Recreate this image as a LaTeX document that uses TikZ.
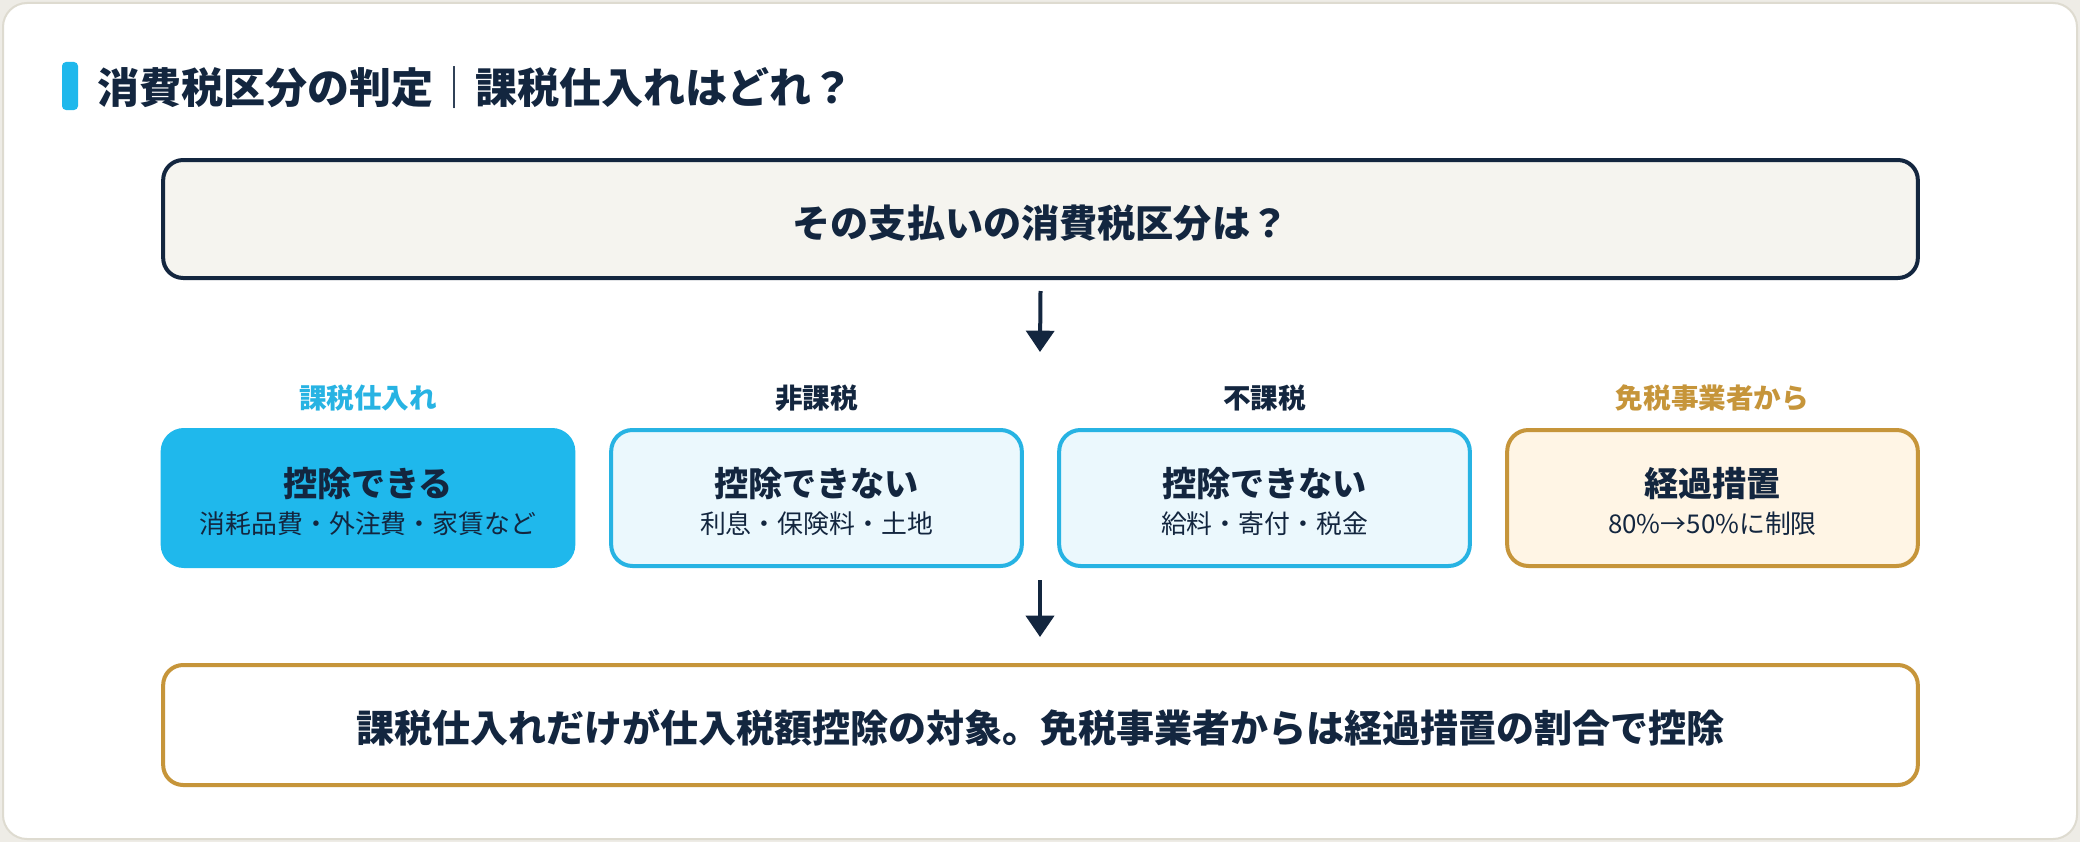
\documentclass[tikz,border=0pt]{standalone}
\usepackage{fontspec}
\setmainfont{Noto Sans CJK JP}
\usetikzlibrary{arrows.meta,calc}
\definecolor{navy}{HTML}{13263F}
\definecolor{cyanA}{HTML}{1FB8EC}
\definecolor{cyanB}{HTML}{27B3E3}
\definecolor{cyanL}{HTML}{EBF8FD}
\definecolor{gold}{HTML}{C6953A}
\definecolor{goldL}{HTML}{FFF5E5}
\definecolor{cream}{HTML}{F5F4EF}
\definecolor{cardline}{HTML}{DEDBD0}
\definecolor{bgout}{HTML}{EEECE6}
\newcommand\fsz[1]{\fontsize{#1}{#1}\selectfont}
\begin{document}
\begin{tikzpicture}[x=0.75pt,y=-0.75pt,
  txt/.style={inner sep=0pt, text=navy},
  mainfont/.style={font=\bfseries\fsz{25.6}},
  subfont/.style={font=\fsz{19.4}},
  labfont/.style={font=\bfseries\fsz{20.7}},
  widebox/.style={minimum width=1316pt, rounded corners=15pt, line width=3pt, inner sep=0pt},
  catbox/.style={minimum width=308pt, minimum height=102pt, rounded corners=16pt, line width=3pt, inner sep=0pt},
  arr/.style={draw=navy, line width=3pt, -{Triangle[width=21pt,length=16pt]}}]
\useasboundingbox (0,0) rectangle (2080,842);
\fill[bgout] (0,0) rectangle (2080,842);
\draw[cardline, line width=1.5pt, fill=white, rounded corners=18pt] (3,3) rectangle (2077,839);
% title
\node[fill=cyanA, rounded corners=3pt, minimum width=12pt, minimum height=36pt, inner sep=0pt] (bar) at (70,86) {};
\node[txt, anchor=west, font=\bfseries\fsz{31.5}] (title) at (97,88) {消費税区分の判定{\mdseries ｜}課税仕入れはどれ？};
% question
\node[widebox, draw=navy, fill=cream, minimum height=88.5pt] (q) at (1040.5,219) {};
\node[txt, font=\bfseries\fsz{28.6}] (qt) at ($(q.center)+(0,4)$) {その支払いの消費税区分は？};
% labels
\node[txt, labfont, text=cyanB] (l1) at (368,398) {課税仕入れ};
\node[txt, labfont] (l2) at (816.5,398) {非課税};
\node[txt, labfont] (l3) at (1264.5,398) {不課税};
\node[txt, labfont, text=gold] (l4) at (1712.5,398) {免税事業者から};
% category boxes
\node[catbox, draw=cyanA, fill=cyanA] (b1) at (368,498) {};
\node[catbox, draw=cyanB, fill=cyanL] (b2) at (816.5,498) {};
\node[catbox, draw=cyanB, fill=cyanL] (b3) at (1264.5,498) {};
\node[catbox, draw=gold, fill=goldL] (b4) at (1712.5,498) {};
\node[txt, mainfont] (m1) at ($(b1.center)+(0,-14)$) {控除できる};
\node[txt, subfont] (s1) at ($(b1.center)+(0,26)$) {消耗品費・外注費・家賃など};
\node[txt, mainfont] (m2) at ($(b2.center)+(0,-14)$) {控除できない};
\node[txt, subfont] (s2) at ($(b2.center)+(0,26)$) {利息・保険料・土地};
\node[txt, mainfont] (m3) at ($(b3.center)+(0,-14)$) {控除できない};
\node[txt, subfont] (s3) at ($(b3.center)+(0,26)$) {給料・寄付・税金};
\node[txt, mainfont] (m4) at ($(b4.center)+(0,-14)$) {経過措置};
\node[txt, subfont] (s4) at ($(b4.center)+(0,26)$) {80\%→50\%に制限};
% result
\node[widebox, draw=gold, fill=white, minimum height=90pt] (res) at (1040.5,725) {};
\node[txt, font=\bfseries\fsz{28.5}] (rt) at ($(res.center)+(0,3)$) {課税仕入れだけが仕入税額控除の対象。免税事業者からは経過措置の割合で控除};
% arrows
\coordinate (a1s) at ($(q.south)+(0,11)$);
\coordinate (a1e) at (1040,352);
\coordinate (a2s) at (1040,580);
\coordinate (a2e) at (1040,637);
\draw[arr] (a1s) -- (a1e);
\draw[arr] (a2s) -- (a2e);
\end{tikzpicture}
\end{document}
